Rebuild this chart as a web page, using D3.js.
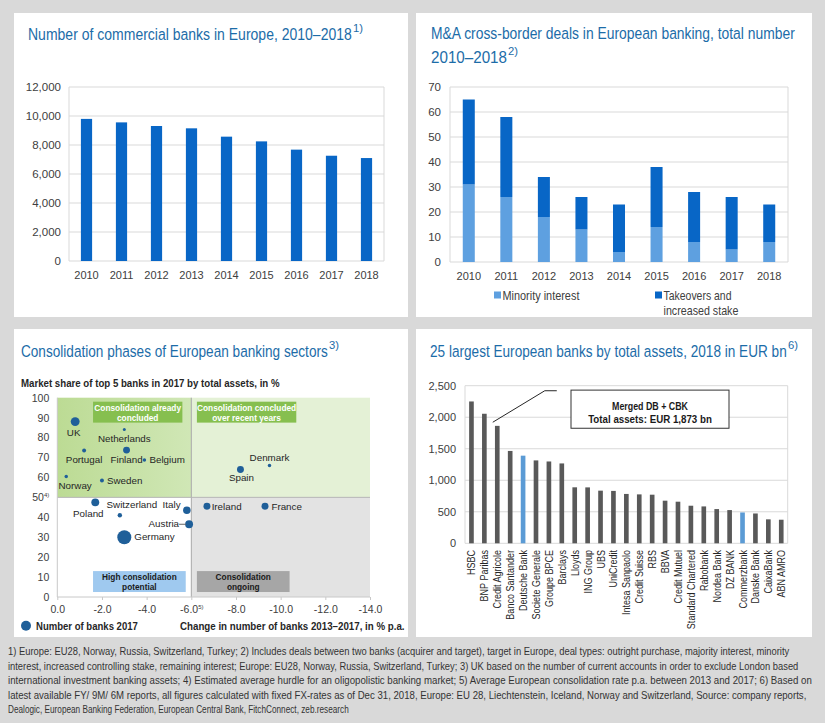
<!DOCTYPE html>
<html><head><meta charset="utf-8">
<script src="https://cdn.jsdelivr.net/npm/d3@7"></script>
<style>body{margin:0;background:#d9d9d9}svg{display:block}</style>
</head><body><svg id="c" width="825" height="723"></svg>
<script>
// ---------- DATA ----------
const years = [2010, 2011, 2012, 2013, 2014, 2015, 2016, 2017, 2018];
const commercialBanks = [9800, 9560, 9310, 9150, 8575, 8250, 7680, 7260, 7100];
const yTicks1 = [0, 2000, 4000, 6000, 8000, 10000, 12000];

const minorityInterest = [31, 26, 18, 13, 4, 14, 8, 5, 8];
const takeoversStake = [34, 32, 16, 13, 19, 24, 20, 21, 15];
const yTicks2 = [0, 10, 20, 30, 40, 50, 60, 70];

const countries = ["UK", "Netherlands", "Portugal", "Finland", "Belgium", "Norway", "Sweden", "Spain", "Denmark", "Poland", "Switzerland", "Italy", "Ireland", "France", "Austria", "Germany"];
const changeBanks = [-0.8, -3.0, -1.2, -3.1, -3.9, -0.4, -2.0, -8.2, -9.5, -1.7, -2.8, -5.8, -6.7, -9.3, -5.9, -3.0];
const marketShareTop5 = [88, 84, 73.5, 73.7, 68.7, 60.5, 58.5, 64, 66, 47.5, 41, 43.5, 45.5, 45.5, 36.5, 30];
const numberOfBanks = [660, 75, 130, 400, 100, 100, 130, 400, 100, 520, 160, 470, 400, 400, 520, 1630];
const xTicks3 = [0, -2, -4, -6, -8, -10, -12, -14];
const yTicks3 = [0, 10, 20, 30, 40, 50, 60, 70, 80, 90, 100];

const bankNames = ["HSBC", "BNP Paribas", "Credit Agricole", "Banco Santander", "Deutsche Bank", "Societe Generale", "Groupe BPCE", "Barclays", "Lloyds", "ING Group", "UBS", "UniCredit", "Intesa Sanpaolo", "Credit Suisse", "RBS", "BBVA", "Credit Mutuel", "Standard Chartered", "Rabobank", "Nordea Bank", "DZ BANK", "Commerzbank", "Danske Bank", "CaixaBank", "ABN AMRO"];
const totalAssets = [2250, 2055, 1863, 1465, 1390, 1315, 1298, 1267, 888, 887, 835, 831, 783, 776, 771, 676, 660, 596, 585, 543, 527, 489, 473, 380, 374];
const highlighted = ["Deutsche Bank", "Commerzbank"];
const yTicks4 = [0, 500, 1000, 1500, 2000, 2500];
const mergedTotal = 1873;

const footnotes = [
 "1) Europe: EU28, Norway, Russia, Switzerland, Turkey; 2) Includes deals between two banks (acquirer and target), target in Europe, deal types: outright purchase, majority interest, minority",
 "interest, increased controlling stake, remaining interest; Europe: EU28, Norway, Russia, Switzerland, Turkey; 3) UK based on the number of current accounts in order to exclude London based",
 "international investment banking assets; 4) Estimated average hurdle for an oligopolistic banking market; 5) Average European consolidation rate p.a. between 2013 and 2017; 6) Based on",
 "latest available FY/ 9M/ 6M reports, all figures calculated with fixed FX-rates as of Dec 31, 2018, Europe: EU 28, Liechtenstein, Iceland, Norway and Switzerland, Source: company reports,",
 "Dealogic, European Banking Federation, European Central Bank, FitchConnect, zeb.research"
];

// ---------- STYLE ----------
const SANS = "'Liberation Sans',Arial,sans-serif";
const TITLE_C = "#1c6ca8", DARK = "#0866c6", LIGHT = "#5ea0e0", GRID = "#d9d9d9", TXT = "#404040";

const svg = d3.select("#c");
svg.append("rect").attr("width", 825).attr("height", 723).attr("fill", "#d9d9d9");
[[14, 13, 394, 304], [416, 13, 396, 304], [14, 329, 394, 308], [416, 329, 396, 308]].forEach(p =>
  svg.append("rect").attr("x", p[0]).attr("y", p[1]).attr("width", p[2]).attr("height", p[3]).attr("fill", "#fff"));

// text squeezed horizontally to a target width (emulates a condensed face)
function fitText(parent, x, y, txt, width, o) {
  const g = parent.append("g");
  const t = g.append("text").attr("x", 0).attr("y", 0).attr("font-family", SANS)
    .attr("font-size", o.size).attr("fill", o.fill || "#262626").attr("font-weight", o.weight || "normal")
    .attr("text-anchor", o.anchor || "start").text(txt);
  const w = t.node().getComputedTextLength();
  g.attr("transform", `translate(${x},${y}) scale(${width / w},1)`);
  return t;
}
function title(x, y, txt, len, sup) {
  fitText(svg, x, y, txt, len, { size: 16.5, fill: TITLE_C });
  if (sup) fitText(svg, x + len + 1, y - 8, sup, 10, { size: 11, fill: TITLE_C });
}
title(28, 40, "Number of commercial banks in Europe, 2010–2018", 324, "1)");
title(431, 39, "M&A cross-border deals in European banking, total number", 364);
title(431, 63, "2010–2018", 76, "2)");
title(21, 357, "Consolidation phases of European banking sectors", 307, "3)");
title(430, 357, "25 largest European banks by total assets, 2018 in EUR bn", 357, "6)");

function frameGrid(g, x0, x1, ys, yScale) {
  g.selectAll("line.grid").data(ys).join("line").attr("class", "grid")
    .attr("x1", x0).attr("x2", x1).attr("y1", d => yScale(d)).attr("y2", d => yScale(d))
    .attr("stroke", GRID).attr("stroke-width", 1);
  g.append("line").attr("x1", x0).attr("x2", x0).attr("y1", yScale.range()[0]).attr("y2", yScale.range()[1]).attr("stroke", GRID);
  g.append("line").attr("x1", x1).attr("x2", x1).attr("y1", yScale.range()[0]).attr("y2", yScale.range()[1]).attr("stroke", GRID);
}
function styleAxis(a, size) {
  a.select(".domain").remove();
  a.selectAll("text").attr("font-family", SANS).attr("font-size", size).attr("fill", TXT);
}

// ---------- CHART 1 ----------
{
  const x = d3.scaleBand().domain(years).range([69, 384]);
  const y = d3.scaleLinear().domain([0, 12000]).range([261, 87]);
  const g = svg.append("g");
  frameGrid(g, 69, 384, yTicks1, y);
  const bw = x.bandwidth() * 0.32;
  g.selectAll("rect.bar").data(years).join("rect").attr("class", "bar")
    .attr("x", d => x(d) + (x.bandwidth() - bw) / 2).attr("width", bw)
    .attr("y", (d, i) => y(commercialBanks[i])).attr("height", (d, i) => y(0) - y(commercialBanks[i]))
    .attr("fill", DARK);
  const ya = g.append("g").attr("transform", "translate(69,0)")
    .call(d3.axisLeft(y).tickValues(yTicks1).tickSize(0).tickPadding(8).tickFormat(d3.format(",")));
  styleAxis(ya, 11.5);
  const xa = g.append("g").attr("transform", "translate(0,261)")
    .call(d3.axisBottom(x).tickSize(0).tickPadding(10));
  styleAxis(xa, 11);
}

// ---------- CHART 2 ----------
{
  const x = d3.scaleBand().domain(years).range([450, 788]);
  const y = d3.scaleLinear().domain([0, 70]).range([262, 87]);
  const g = svg.append("g");
  frameGrid(g, 450, 788, yTicks2, y);
  const rows = years.map((yr, i) => ({ year: yr, m: minorityInterest[i], t: takeoversStake[i] }));
  const stack = d3.stack().keys(["m", "t"])(rows);
  const colors = [LIGHT, DARK];
  const bw = x.bandwidth() * 0.32;
  stack.forEach((s, k) => {
    g.selectAll("rect.s" + k).data(s).join("rect").attr("class", "s" + k)
      .attr("x", d => x(d.data.year) + (x.bandwidth() - bw) / 2).attr("width", bw)
      .attr("y", d => y(d[1])).attr("height", d => y(d[0]) - y(d[1])).attr("fill", colors[k]);
  });
  const ya = g.append("g").attr("transform", "translate(450,0)")
    .call(d3.axisLeft(y).tickValues(yTicks2).tickSize(0).tickPadding(9));
  styleAxis(ya, 11.5);
  const xa = g.append("g").attr("transform", "translate(0,262)")
    .call(d3.axisBottom(x).tickSize(0).tickPadding(10));
  styleAxis(xa, 11);
  // legend
  const lg = [{ x: 494, c: LIGHT, lines: [["Minority interest", 77]] },
              { x: 655, c: DARK, lines: [["Takeovers and", 68], ["increased stake", 75]] }];
  lg.forEach(l => {
    g.append("rect").attr("x", l.x).attr("y", 291.5).attr("width", 7).attr("height", 7).attr("fill", l.c);
    l.lines.forEach((ln, j) => fitText(g, l.x + 8.5, 299.5 + j * 15, ln[0], ln[1], { size: 12.5, fill: TXT }));
  });
}

// ---------- CHART 3 ----------
{
  const x = d3.scaleLinear().domain([0, -14]).range([57.3, 370]);
  const y = d3.scaleLinear().domain([0, 100]).range([597, 397.7]);
  const r = d3.scaleSqrt().domain([0, 1630]).range([0, 7]);
  const g = svg.append("g");
  const defs = svg.append("defs");
  const grad = defs.append("linearGradient").attr("id", "gq").attr("x1", 0).attr("x2", 1).attr("y1", 0).attr("y2", 0);
  grad.append("stop").attr("offset", 0).attr("stop-color", "#bcdb94");
  grad.append("stop").attr("offset", 1).attr("stop-color", "#d0e7b6");
  const quad = (xa, xb, ya, yb, fill) => g.append("rect").attr("x", x(xa)).attr("width", x(xb) - x(xa))
    .attr("y", y(ya)).attr("height", y(yb) - y(ya)).attr("fill", fill);
  quad(0, -6, 100, 50, "url(#gq)");
  quad(-6, -14, 100, 50, "#e4f1d6");
  quad(-6, -14, 50, 0, "#e3e3e3");
  g.append("line").attr("x1", x(-6)).attr("x2", x(-6)).attr("y1", y(100)).attr("y2", y(0)).attr("stroke", "#a8a8a8");
  g.append("line").attr("x1", x(0)).attr("x2", x(-14)).attr("y1", y(50)).attr("y2", y(50)).attr("stroke", "#b5b5b5");
  g.append("line").attr("x1", x(0)).attr("x2", x(0)).attr("y1", y(100)).attr("y2", y(0)).attr("stroke", "#c8c8c8");
  g.append("line").attr("x1", x(0)).attr("x2", x(-14)).attr("y1", y(0)).attr("y2", y(0)).attr("stroke", "#c8c8c8");

  // boxes
  const boxes = [
    { x0: -1.6, x1: -5.6, y0: 98, y1: 87.5, fill: "#86bf4f", tc: "#fff", lines: ["Consolidation already", "concluded"] },
    { x0: -6.25, x1: -10.7, y0: 98, y1: 87.5, fill: "#86bf4f", tc: "#fff", lines: ["Consolidation concluded", "over recent years"] },
    { x0: -1.6, x1: -5.75, y0: 13, y1: 2.5, fill: "#9fc9ef", tc: "#1a1a1a", lines: ["High consolidation", "potential"] },
    { x0: -6.25, x1: -10.4, y0: 13, y1: 2.5, fill: "#a6a6a6", tc: "#1a1a1a", lines: ["Consolidation", "ongoing"] }
  ];
  boxes.forEach(b => {
    g.append("rect").attr("x", x(b.x0)).attr("width", x(b.x1) - x(b.x0)).attr("y", y(b.y0)).attr("height", y(b.y1) - y(b.y0)).attr("fill", b.fill);
    const cx = (x(b.x0) + x(b.x1)) / 2, cy = (y(b.y0) + y(b.y1)) / 2;
    b.lines.forEach((ln, j) => g.append("text").attr("x", cx).attr("y", cy - 1.5 + j * 10).attr("text-anchor", "middle")
      .attr("font-family", SANS).attr("font-weight", "bold").attr("font-size", 8.3).attr("fill", b.tc).text(ln));
  });

  // axes
  const ya = g.append("g").attr("transform", `translate(${x(0)},0)`)
    .call(d3.axisLeft(y).tickValues(yTicks3).tickSize(0).tickPadding(8));
  styleAxis(ya, 10.5);
  ya.selectAll("text").filter(d => d === 50).append("tspan").attr("font-size", 6).attr("dy", "-4").text("4)");
  const xa = g.append("g").attr("transform", `translate(0,${y(0)})`)
    .call(d3.axisBottom(x).tickValues(xTicks3).tickSize(3).tickPadding(6).tickFormat(d => d.toFixed(1)));
  styleAxis(xa, 10.5);
  xa.selectAll("line").attr("stroke", "#c8c8c8");
  xa.selectAll("text").filter(d => d === -6).append("tspan").attr("font-size", 6).attr("dy", "-4").text("5)");

  // points
  const pts = countries.map((c, i) => ({ c, x: changeBanks[i], y: marketShareTop5[i], n: numberOfBanks[i] }));
  g.selectAll("circle.pt").data(pts).join("circle").attr("class", "pt")
    .attr("cx", d => x(d.x)).attr("cy", d => y(d.y)).attr("r", d => r(d.n)).attr("fill", "#1f5f99");
  const lab = {
    UK: [-1.5, 14.4, "middle"], Netherlands: [0, 12, "middle"], Portugal: [0, 12, "middle"], Finland: [0, 13, "middle"],
    Belgium: [5, 2.5, "start"], Norway: [-7.7, 12.3, "start"], Sweden: [5, 3.5, "start"], Spain: [1, 12, "middle"],
    Denmark: [0, -4.6, "middle"], Poland: [8.3, 14.3, "end"], Switzerland: [-13.3, -7, "start"], Italy: [-6.3, -2, "end"],
    Ireland: [4.7, 3.3, "start"], France: [6.4, 3.3, "start"], Austria: [-10, 2.4, "end"], Germany: [10, 3, "start"]
  };
  g.selectAll("text.lab").data(pts).join("text").attr("class", "lab")
    .attr("x", d => x(d.x) + lab[d.c][0]).attr("y", d => y(d.y) + lab[d.c][1]).attr("text-anchor", d => lab[d.c][2])
    .attr("font-family", SANS).attr("font-size", 9.8).attr("fill", "#262626").text(d => d.c);
  const au = pts.find(d => d.c === "Austria");
  g.append("line").attr("x1", x(au.x) - 10).attr("x2", x(au.x) - 3).attr("y1", y(au.y)).attr("y2", y(au.y)).attr("stroke", "#666");

  // subtitle, legend, x title
  fitText(svg, 21, 387, "Market share of top 5 banks in 2017 by total assets, in %", 259, { size: 10, weight: "bold" });
  svg.append("circle").attr("cx", 26).attr("cy", 625.7).attr("r", 5).attr("fill", "#1f5f99");
  fitText(svg, 36, 629.5, "Number of banks 2017", 102, { size: 10, weight: "bold" });
  fitText(svg, 180, 629.5, "Change in number of banks 2013–2017, in % p.a.", 225, { size: 10, weight: "bold" });
}

// ---------- CHART 4 ----------
{
  const x = d3.scaleBand().domain(bankNames).range([465, 787.7]);
  const y = d3.scaleLinear().domain([0, 2500]).range([543.3, 385.7]);
  const g = svg.append("g");
  frameGrid(g, 465, 787.7, yTicks4, y);
  const bw = x.bandwidth() * 0.36;
  g.selectAll("rect.bar").data(bankNames).join("rect").attr("class", "bar")
    .attr("x", d => x(d) + (x.bandwidth() - bw) / 2).attr("width", bw)
    .attr("y", (d, i) => y(totalAssets[i])).attr("height", (d, i) => y(0) - y(totalAssets[i]))
    .attr("fill", d => highlighted.includes(d) ? "#5b9bd5" : "#595959");
  const ya = g.append("g").attr("transform", "translate(465,0)")
    .call(d3.axisLeft(y).tickValues(yTicks4).tickSize(0).tickPadding(9).tickFormat(d3.format(",")));
  styleAxis(ya, 11);
  g.selectAll("text.bn").data(bankNames).join("text").attr("class", "bn")
    .attr("transform", d => `translate(${x(d) + x.bandwidth() / 2 + 4},550) rotate(-90) scale(0.82,1)`)
    .attr("text-anchor", "end").attr("font-family", SANS).attr("font-size", 11).attr("fill", "#262626").text(d => d);
  // callout
  const ax = x("Credit Agricole") + x.bandwidth() / 2 - 4.5, ay = y(mergedTotal) - 3;
  g.append("polyline").attr("points", `${ax},${ay} ${ax + 52},${y(2420)} ${ax + 64},${y(2420)}`)
    .attr("fill", "none").attr("stroke", "#262626").attr("stroke-width", 1);
  const bx0 = 571, bx1 = 729;
  g.append("rect").attr("x", bx0).attr("y", y(2430)).attr("width", bx1 - bx0).attr("height", y(1825) - y(2430))
    .attr("fill", "#fff").attr("stroke", "#333");
  fitText(g, (bx0 + bx1) / 2, 409.5, "Merged DB + CBK", 76, { size: 10, weight: "bold", anchor: "middle", fill: "#1a1a1a" });
  fitText(g, (bx0 + bx1) / 2, 423, "Total assets:  EUR " + d3.format(",")(mergedTotal) + " bn", 124,
    { size: 10, weight: "bold", anchor: "middle", fill: "#1a1a1a" });
}

// ---------- FOOTNOTES ----------
const fnLen = [782, 791, 804, 799, 341];
footnotes.forEach((t, i) => fitText(svg, 8, 655 + i * 14.5, t, fnLen[i], { size: 11, fill: "#333" }));
</script></body></html>
